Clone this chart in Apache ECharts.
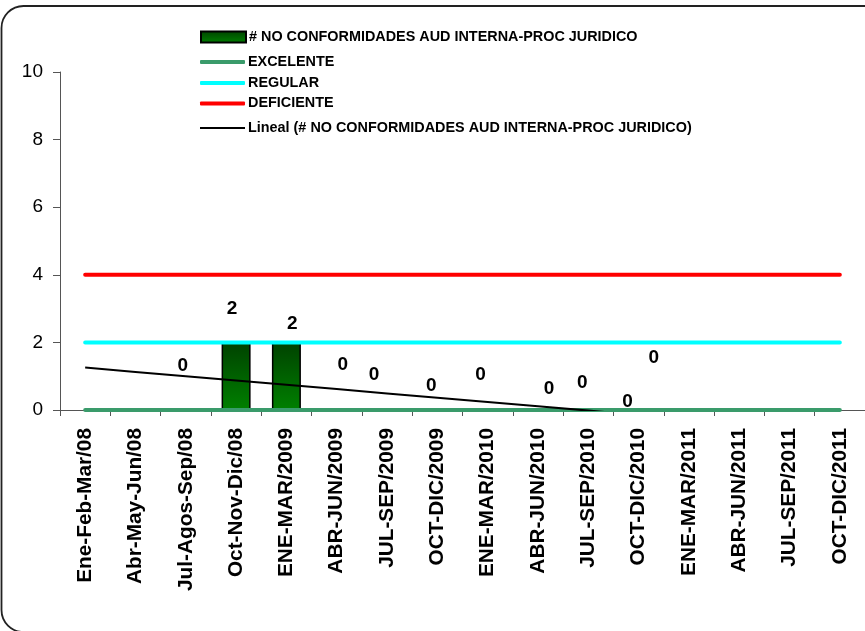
<!DOCTYPE html>
<html>
<head>
<meta charset="utf-8">
<script src="https://cdn.jsdelivr.net/npm/echarts@6/dist/echarts.min.js"></script>
<style>html,body{margin:0;padding:0;background:#fff;}#c{width:865px;height:631px;}</style>
</head>
<body>
<div id="c"></div>
<script>
var categories = ['Ene-Feb-Mar/08','Abr-May-Jun/08','Jul-Agos-Sep/08','Oct-Nov-Dic/08','ENE-MAR/2009','ABR-JUN/2009','JUL-SEP/2009','OCT-DIC/2009','ENE-MAR/2010','ABR-JUN/2010','JUL-SEP/2010','OCT-DIC/2010','ENE-MAR/2011','ABR-JUN/2011','JUL-SEP/2011','OCT-DIC/2011'];
var noConformidades = [null, null, 0, 2, 2, 0, 0, 0, 0, 0, 0, 0, 0, null, null, null];
var excelente = [0,0,0,0,0,0,0,0,0,0,0,0,0,0,0,0];
var regular = [2,2,2,2,2,2,2,2,2,2,2,2,2,2,2,2];
var deficiente = [4,4,4,4,4,4,4,4,4,4,4,4,4,4,4,4];
var yTicks = [0, 2, 4, 6, 8, 10];
var seriesNames = ['# NO CONFORMIDADES AUD INTERNA-PROC JURIDICO','EXCELENTE','REGULAR','DEFICIENTE','Lineal (# NO CONFORMIDADES AUD INTERNA-PROC JURIDICO)'];
// label placement (style only)
var labelOffsets = [null, null, [-3,-34], [-4,-24], [6,-9], [6,-35], [-13,-25], [-6,-14], [-7,-25], [11,-11], [-6,-17], [-11,2], [-35,-42], null, null, null];

// Linear trendline (least squares over the bar series, as Excel "Lineal")
var xs = [], ys = [];
noConformidades.forEach(function(v, i){ if (v !== null) { xs.push(i); ys.push(v); } });
var mx = xs.reduce(function(a,b){return a+b;},0)/xs.length;
var my = ys.reduce(function(a,b){return a+b;},0)/ys.length;
var sxy = 0, sxx = 0;
for (var k = 0; k < xs.length; k++) { sxy += (xs[k]-mx)*(ys[k]-my); sxx += (xs[k]-mx)*(xs[k]-mx); }
var slope = sxy/sxx, icpt = my - slope*mx;
var trend = categories.map(function(_, i){ return icpt + slope*i; });

var FONT = 'Liberation Sans, Arial, sans-serif';
var barData = noConformidades.map(function(v, i){
  var o = { value: v };
  if (labelOffsets[i]) o.label = { show: true, offset: labelOffsets[i] };
  else o.label = { show: false };
  return o;
});

var legendText = { fontFamily: FONT, fontSize: 14.4, fontWeight: 'bold', color: '#000', padding: [0,0,0,-2] };
function mkLegend(name, top, h, icon) {
  return { orient: 'vertical', left: 200, top: top, padding: 0, itemWidth: 45, itemHeight: h, icon: icon,
           textStyle: legendText, data: [name] };
}
var legendRowCenters = [37, 62, 83, 103.5, 128];

var chart = echarts.init(document.getElementById('c'), null, {renderer:'canvas'});
chart.setOption({
  animation: false,
  backgroundColor: '#fff',
  graphic: [{
    type: 'rect', z: 100, silent: true,
    shape: { x: 1.5, y: 6, width: 900, height: 626, r: 22 },
    style: { fill: 'none', stroke: '#222', lineWidth: 1.8 }
  }],
  legend: [
    mkLegend(seriesNames[0], legendRowCenters[0]-7, 11, 'rect'),
    mkLegend(seriesNames[1], legendRowCenters[1]-7, 4, 'roundRect'),
    mkLegend(seriesNames[2], legendRowCenters[2]-7, 4, 'roundRect'),
    mkLegend(seriesNames[3], legendRowCenters[3]-7, 4, 'roundRect'),
    mkLegend(seriesNames[4], legendRowCenters[4]-7, 2, 'rect')
  ],
  grid: { left: 60, top: 72, width: 809.6, height: 338, containLabel: false },
  xAxis: {
    type: 'category', data: categories, boundaryGap: true,
    axisLine: { lineStyle: { color: '#555', width: 1 } },
    axisTick: { show: true, length: 6, alignWithLabel: false, lineStyle: { color: '#555' } },
    axisLabel: { rotate: 90, interval: 0, margin: 18, fontFamily: FONT, fontSize: 20.8, fontWeight: 'bold', color: '#000' },
    splitLine: { show: false }
  },
  yAxis: {
    type: 'value', min: yTicks[0], max: yTicks[yTicks.length-1], interval: 2,
    axisLine: { show: true, lineStyle: { color: '#555', width: 1 } },
    axisTick: { show: true, length: 7, lineStyle: { color: '#555' } },
    axisLabel: { margin: 17, fontFamily: FONT, fontSize: 19, color: '#000' },
    splitLine: { show: false }
  },
  series: [
    {
      name: seriesNames[0], type: 'bar', data: barData, barWidth: 29,
      itemStyle: {
        color: new echarts.graphic.LinearGradient(0,0,0,1,[{offset:0,color:'#004200'},{offset:1,color:'#008000'}]),
        borderColor: '#000', borderWidth: 1.5
      },
      label: { show: true, position: 'top', distance: 0, fontFamily: FONT, fontSize: 19, fontWeight: 'bold', color: '#000' },
      z: 2
    },
    { name: seriesNames[1], type: 'line', data: excelente, symbol: 'none', lineStyle: { color: '#3a9b6b', width: 4, cap: 'round' }, itemStyle: { color: '#3a9b6b' }, z: 3 },
    { name: seriesNames[2], type: 'line', data: regular, symbol: 'none', lineStyle: { color: '#00ffff', width: 4, cap: 'round' }, itemStyle: { color: '#00ffff' }, z: 3 },
    { name: seriesNames[3], type: 'line', data: deficiente, symbol: 'none', lineStyle: { color: '#ff0000', width: 4, cap: 'round' }, itemStyle: { color: '#ff0000' }, z: 3 },
    { name: seriesNames[4], type: 'line', data: trend, symbol: 'none', clip: true, lineStyle: { color: '#000', width: 2 }, itemStyle: { color: '#000' }, z: 4 }
  ]
});
</script>
</body>
</html>
